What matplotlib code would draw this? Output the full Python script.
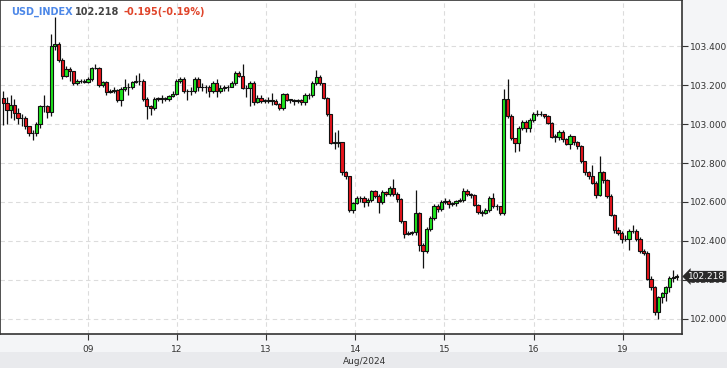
import matplotlib
matplotlib.use("Agg")
import matplotlib.pyplot as plt
import matplotlib.transforms as mtransforms
import numpy as np

# hourly candles, Aug 8 - Aug 19 2024 (open = previous close)
first_open = 103.135
closes = [103.11, 103.07, 103.10, 103.055, 103.03, 103.03, 102.99, 102.955, 102.955, 103.00,
          103.09, 103.09, 103.06, 103.40, 103.41, 103.33, 103.245, 103.28, 103.27, 103.21,
          103.22, 103.22, 103.215, 103.23, 103.285, 103.285, 103.20, 103.215, 103.165, 103.17,
          103.175, 103.125, 103.18, 103.19, 103.19, 103.215, 103.22, 103.22, 103.13, 103.09,
          103.08, 103.13, 103.13, 103.13, 103.13, 103.145, 103.155, 103.22, 103.23, 103.17,
          103.17, 103.17, 103.23, 103.19, 103.19, 103.19, 103.17, 103.21, 103.17, 103.185,
          103.19, 103.19, 103.21, 103.26, 103.245, 103.185, 103.185, 103.21, 103.115, 103.135,
          103.12, 103.12, 103.12, 103.12, 103.105, 103.08, 103.155, 103.125, 103.125, 103.12,
          103.125, 103.115, 103.15, 103.15, 103.21, 103.24, 103.21, 103.135, 103.05, 102.905,
          102.905, 102.91, 102.755, 102.735, 102.56, 102.595, 102.62, 102.62, 102.60, 102.61,
          102.655, 102.63, 102.60, 102.65, 102.64, 102.67, 102.64, 102.615, 102.50, 102.435,
          102.44, 102.445, 102.545, 102.38, 102.35, 102.46, 102.52, 102.58, 102.565, 102.60,
          102.605, 102.59, 102.595, 102.605, 102.61, 102.655, 102.64, 102.635, 102.585, 102.55,
          102.545, 102.56, 102.62, 102.58, 102.58, 102.545, 103.13, 103.04, 102.93, 102.905,
          102.98, 103.01, 102.98, 103.02, 103.05, 103.05, 103.05, 103.04, 103.005, 102.935,
          102.935, 102.96, 102.925, 102.90, 102.94, 102.91, 102.885, 102.81, 102.755, 102.735,
          102.70, 102.635, 102.755, 102.715, 102.63, 102.535, 102.455, 102.44, 102.41, 102.41,
          102.45, 102.45, 102.41, 102.35, 102.34, 102.205, 102.165, 102.035, 102.115, 102.135,
          102.165, 102.21, 102.215, 102.218]
highs = [103.17, 103.14, 103.15, 103.13, 103.08, 103.05, 103.04, 102.99, 102.97, 103.01,
         103.10, 103.15, 103.10, 103.46, 103.55, 103.42, 103.34, 103.30, 103.29, 103.27,
         103.23, 103.23, 103.23, 103.24, 103.29, 103.31, 103.29, 103.22, 103.22, 103.18,
         103.19, 103.18, 103.19, 103.23, 103.21, 103.22, 103.25, 103.26, 103.23, 103.14,
         103.10, 103.14, 103.14, 103.15, 103.14, 103.15, 103.17, 103.23, 103.24, 103.24,
         103.18, 103.19, 103.24, 103.24, 103.21, 103.20, 103.20, 103.22, 103.23, 103.20,
         103.20, 103.20, 103.22, 103.27, 103.27, 103.31, 103.20, 103.22, 103.22, 103.15,
         103.15, 103.13, 103.14, 103.16, 103.13, 103.11, 103.16, 103.16, 103.13, 103.13,
         103.13, 103.13, 103.16, 103.16, 103.22, 103.275, 103.25, 103.21, 103.14, 103.05,
         102.96, 102.97, 102.91, 102.76, 102.735, 102.60, 102.63, 102.63, 102.63, 102.62,
         102.66, 102.66, 102.64, 102.66, 102.655, 102.68, 102.72, 102.65, 102.62, 102.50,
         102.45, 102.45, 102.66, 102.55, 102.39, 102.47, 102.53, 102.59, 102.59, 102.61,
         102.62, 102.615, 102.60, 102.61, 102.62, 102.67, 102.665, 102.645, 102.64, 102.59,
         102.56, 102.57, 102.63, 102.645, 102.59, 102.58, 103.18, 103.23, 103.05, 102.93,
         102.99, 103.02, 103.02, 103.03, 103.06, 103.07, 103.065, 103.05, 103.045, 103.01,
         102.95, 102.97, 102.97, 102.93, 102.95, 102.94, 102.915, 102.89, 102.81, 102.76,
         102.79, 102.71, 102.835, 102.76, 102.72, 102.64, 102.54, 102.47, 102.45, 102.43,
         102.46, 102.48, 102.46, 102.42, 102.36, 102.35, 102.22, 102.17, 102.12, 102.14,
         102.17, 102.22, 102.25, 102.23]
lows = [102.995, 103.00, 103.03, 103.02, 103.00, 102.99, 102.975, 102.94, 102.92, 102.94,
        102.98, 103.06, 103.03, 103.04, 103.38, 103.32, 103.23, 103.24, 103.22, 103.20,
        103.20, 103.21, 103.21, 103.21, 103.22, 103.28, 103.19, 103.19, 103.15, 103.16,
        103.16, 103.115, 103.09, 103.17, 103.15, 103.18, 103.21, 103.20, 103.12, 103.025,
        103.046, 103.07, 103.12, 103.11, 103.12, 103.12, 103.14, 103.15, 103.21, 103.16,
        103.123, 103.15, 103.16, 103.17, 103.17, 103.16, 103.14, 103.16, 103.14, 103.16,
        103.17, 103.17, 103.19, 103.20, 103.24, 103.18, 103.14, 103.09, 103.10, 103.11,
        103.11, 103.11, 103.11, 103.10, 103.10, 103.07, 103.07, 103.12, 103.11, 103.10,
        103.11, 103.10, 103.10, 103.13, 103.14, 103.20, 103.20, 103.13, 103.04, 102.90,
        102.87, 102.88, 102.74, 102.72, 102.55, 102.545, 102.59, 102.60, 102.575, 102.58,
        102.60, 102.62, 102.545, 102.59, 102.63, 102.63, 102.63, 102.60, 102.49, 102.415,
        102.43, 102.43, 102.43, 102.35, 102.26, 102.34, 102.45, 102.51, 102.55, 102.555,
        102.59, 102.57, 102.58, 102.58, 102.60, 102.60, 102.63, 102.62, 102.58, 102.54,
        102.53, 102.54, 102.55, 102.57, 102.56, 102.535, 102.535, 103.03, 102.92, 102.855,
        102.86, 102.97, 102.96, 102.96, 103.01, 103.04, 103.04, 103.03, 103.00, 102.93,
        102.91, 102.92, 102.91, 102.89, 102.87, 102.89, 102.87, 102.80, 102.74, 102.72,
        102.69, 102.62, 102.63, 102.70, 102.62, 102.53, 102.44, 102.43, 102.39, 102.40,
        102.355, 102.44, 102.40, 102.34, 102.33, 102.20, 102.15, 102.02, 102.00, 102.08,
        102.09, 102.14, 102.19, 102.20]

day_labels = ["09", "12", "13", "14", "15", "16", "19"]
day_pos = [23.0, 47.2, 71.4, 95.6, 119.8, 144.2, 168.4]
y_ticks = [102.0, 102.2, 102.4, 102.6, 102.8, 103.0, 103.2, 103.4]
last_price = 102.218

opens = [first_open] + closes[:-1]
n = len(closes)
x = np.arange(n)
o = np.array(opens)
c = np.array(closes)
up = c >= o

fig = plt.figure(figsize=(7.27, 3.68), dpi=100, facecolor="#f4f5f7")
ax = fig.add_axes([0, 34 / 368, 682 / 727, 334 / 368])
ax.set_facecolor("white")

# bottom band with the month
fig.patches.append(plt.Rectangle((0, 0), 1, 16 / 368, transform=fig.transFigure,
                                 facecolor="#e9eaed", edgecolor="none", zorder=0))

ax.vlines(x, lows, highs, color="#111111", linewidth=0.9, zorder=2)
body_lo = np.minimum(o, c)
body_h = np.maximum(np.abs(c - o), 0.001)
ax.bar(x, body_h, bottom=body_lo, width=0.88,
       color=np.where(up, "#1ee51e", "#e8141c"), edgecolor="#111111",
       linewidth=0.8, zorder=3)

ax.set_xlim(-0.9, 184.4)
ax.set_ylim(101.923, 103.636)

ax.yaxis.tick_right()
ax.set_yticks(y_ticks)
ax.set_yticklabels([f"{v:.3f}" for v in y_ticks])
ax.set_xticks(day_pos)
ax.set_xticklabels(day_labels)
ax.tick_params(axis="both", colors="#333333", labelsize=6.5, length=4, width=0.8,
               labelcolor="#333333")
ax.tick_params(axis="y", pad=1.5)
ax.tick_params(axis="x", pad=4)
ax.grid(True, color="#dcdcdc", linestyle=(0, (4, 3)), linewidth=0.8)
ax.set_axisbelow(True)
for s in ax.spines.values():
    s.set_color("#333333")
    s.set_linewidth(1.2)

fig.text(365 / 727, 7 / 368, "Aug/2024", ha="center", va="center",
         fontsize=6.5, color="#333333")

# last price tag
tr = mtransforms.blended_transform_factory(ax.transAxes, ax.transData)
ax.text(1.009, last_price, "102.218", transform=tr, ha="left", va="center",
        fontsize=6.5, color="white", clip_on=False, zorder=5,
        bbox=dict(boxstyle="larrow,pad=0.12", fc="#2a2a2a", ec="none"))

# header
fig.text(11 / 727, 1 - 12 / 368, "USD_INDEX", ha="left", va="center",
         fontsize=7, fontweight="bold", color="#4d88e8")
fig.text(75 / 727, 1 - 12 / 368, "102.218", ha="left", va="center",
         fontsize=7, fontweight="bold", color="#444444")
fig.text(124 / 727, 1 - 12 / 368, "-0.195(-0.19%)", ha="left", va="center",
         fontsize=7, fontweight="bold", color="#e0452b")

fig.savefig("out.png", dpi=100, facecolor=fig.get_facecolor())
